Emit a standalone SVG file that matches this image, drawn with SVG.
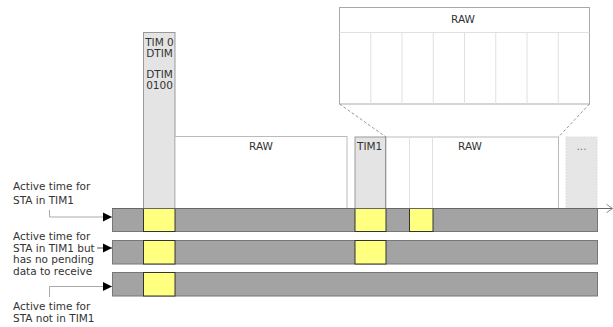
<svg xmlns="http://www.w3.org/2000/svg" width="613" height="327" viewBox="0 0 613 327">
<defs>
<style>
text{font-family:"DejaVu Sans","Liberation Sans",sans-serif;font-size:10.5px;fill:#333}
.mid{text-anchor:middle}
.tim{fill:#e4e4e4;stroke:#999;stroke-width:1}
.raw{fill:#fff;stroke:#bbb;stroke-width:1}
.grid{stroke:#e0e0e0;stroke-width:1}
.bar{fill:#a3a3a3;stroke:#777;stroke-width:1}
.yel{fill:#ffff80;stroke:#333;stroke-width:1}
.lead{fill:none;stroke:#aaa;stroke-width:1}
.zoom{fill:none;stroke:#999;stroke-width:1;stroke-dasharray:3,2}
</style>
<marker id="ah" viewBox="0 0 10 10" refX="10" refY="5" markerWidth="9" markerHeight="10" markerUnits="userSpaceOnUse" orient="auto">
<path d="M0,0 L10,5 L0,10 Z" fill="#000"/>
</marker>
</defs>
<rect width="613" height="327" fill="#fff"/>

<g id="tim0">
<rect class="tim" x="143.5" y="32.5" width="31.5" height="176"/>
<text class="mid" x="159.5" y="45.5">TIM 0</text>
<text class="mid" x="159.5" y="56.5">DTIM</text>
<text class="mid" x="159.5" y="78">DTIM</text>
<text class="mid" x="159.5" y="89">0100</text>
</g>

<g id="raw1">
<rect class="raw" x="175" y="136.5" width="172" height="72"/>
<text class="mid" x="261" y="150">RAW</text>
</g>

<g id="tim1">
<rect class="tim" x="355" y="137" width="31" height="71.5"/>
<line x1="386" y1="137" x2="386" y2="208.5" stroke="#222" stroke-width="1"/>
<text x="357" y="150">TIM1</text>
</g>

<g id="raw2">
<rect class="raw" x="386" y="137" width="172.5" height="71.5"/>
<line class="grid" x1="409.5" y1="137.5" x2="409.5" y2="208"/>
<line class="grid" x1="432.5" y1="137.5" x2="432.5" y2="208"/>
<text class="mid" x="470" y="150">RAW</text>
</g>

<g id="more">
<rect x="566" y="137" width="31" height="71.5" fill="#e6e6e6" stroke="#ddd" stroke-dasharray="2,1"/>
<text class="mid" x="581.5" y="150" style="fill:#777">...</text>
</g>

<g id="rawZoom">
<rect class="raw" x="339.5" y="7.5" width="250" height="96.5" style="stroke:#aaa"/>
<line class="grid" x1="339.5" y1="32.5" x2="589.5" y2="32.5"/>
<line class="grid" x1="370.75" y1="32.5" x2="370.75" y2="104"/>
<line class="grid" x1="402" y1="32.5" x2="402" y2="104"/>
<line class="grid" x1="433.25" y1="32.5" x2="433.25" y2="104"/>
<line class="grid" x1="464.5" y1="32.5" x2="464.5" y2="104"/>
<line class="grid" x1="495.75" y1="32.5" x2="495.75" y2="104"/>
<line class="grid" x1="527" y1="32.5" x2="527" y2="104"/>
<line class="grid" x1="558.25" y1="32.5" x2="558.25" y2="104"/>
<text class="mid" x="463" y="23">RAW</text>
</g>

<g id="bar1">
<rect class="bar" x="112.5" y="208.5" width="485" height="23"/>
<rect class="yel" x="143.5" y="208.5" width="31.5" height="23"/>
<rect class="yel" x="355" y="208.5" width="31" height="23"/>
<rect class="yel" x="409.5" y="208.5" width="23.5" height="23"/>
</g>
<g id="bar2">
<rect class="bar" x="112.5" y="240.5" width="485" height="23.5"/>
<rect class="yel" x="143.5" y="240.5" width="31.5" height="23.5"/>
<rect class="yel" x="355" y="240.5" width="31" height="23.5"/>
</g>
<g id="bar3">
<rect class="bar" x="112.5" y="272.5" width="485" height="23.5"/>
<rect class="yel" x="143.5" y="272.5" width="31.5" height="23.5"/>
</g>

<g id="label1">
<text x="13" y="190">Active time for</text>
<text x="13" y="203.5">STA in TIM1</text>
</g>
<g id="label2">
<text x="13" y="240">Active time for</text>
<text x="13" y="251.5">STA in TIM1 but</text>
<text x="13" y="263">has no pending</text>
<text x="13" y="274.5">data to receive</text>
</g>
<g id="label3">
<text x="13" y="310">Active time for</text>
<text x="13" y="321.5">STA not in TIM1</text>
</g>

<g id="connectors">
<line x1="339.5" y1="104" x2="386" y2="137" class="zoom"/>
<line x1="589.5" y1="104" x2="558.5" y2="137" class="zoom"/>
<line x1="112" y1="208.5" x2="612.5" y2="208.5" stroke="#666" stroke-width="1.2"/>
<polyline points="606.5,204.3 612.5,208.5 606.5,212.7" fill="none" stroke="#888" stroke-width="1"/>
<polyline class="lead" points="49.5,210 49.5,217 112,217" marker-end="url(#ah)"/>
<polyline points="97,248 112,248" fill="none" stroke="#555" stroke-width="1" marker-end="url(#ah)"/>
<polyline class="lead" points="49.5,297 49.5,286.5 112,286.5" marker-end="url(#ah)"/>
</g>
</svg>
